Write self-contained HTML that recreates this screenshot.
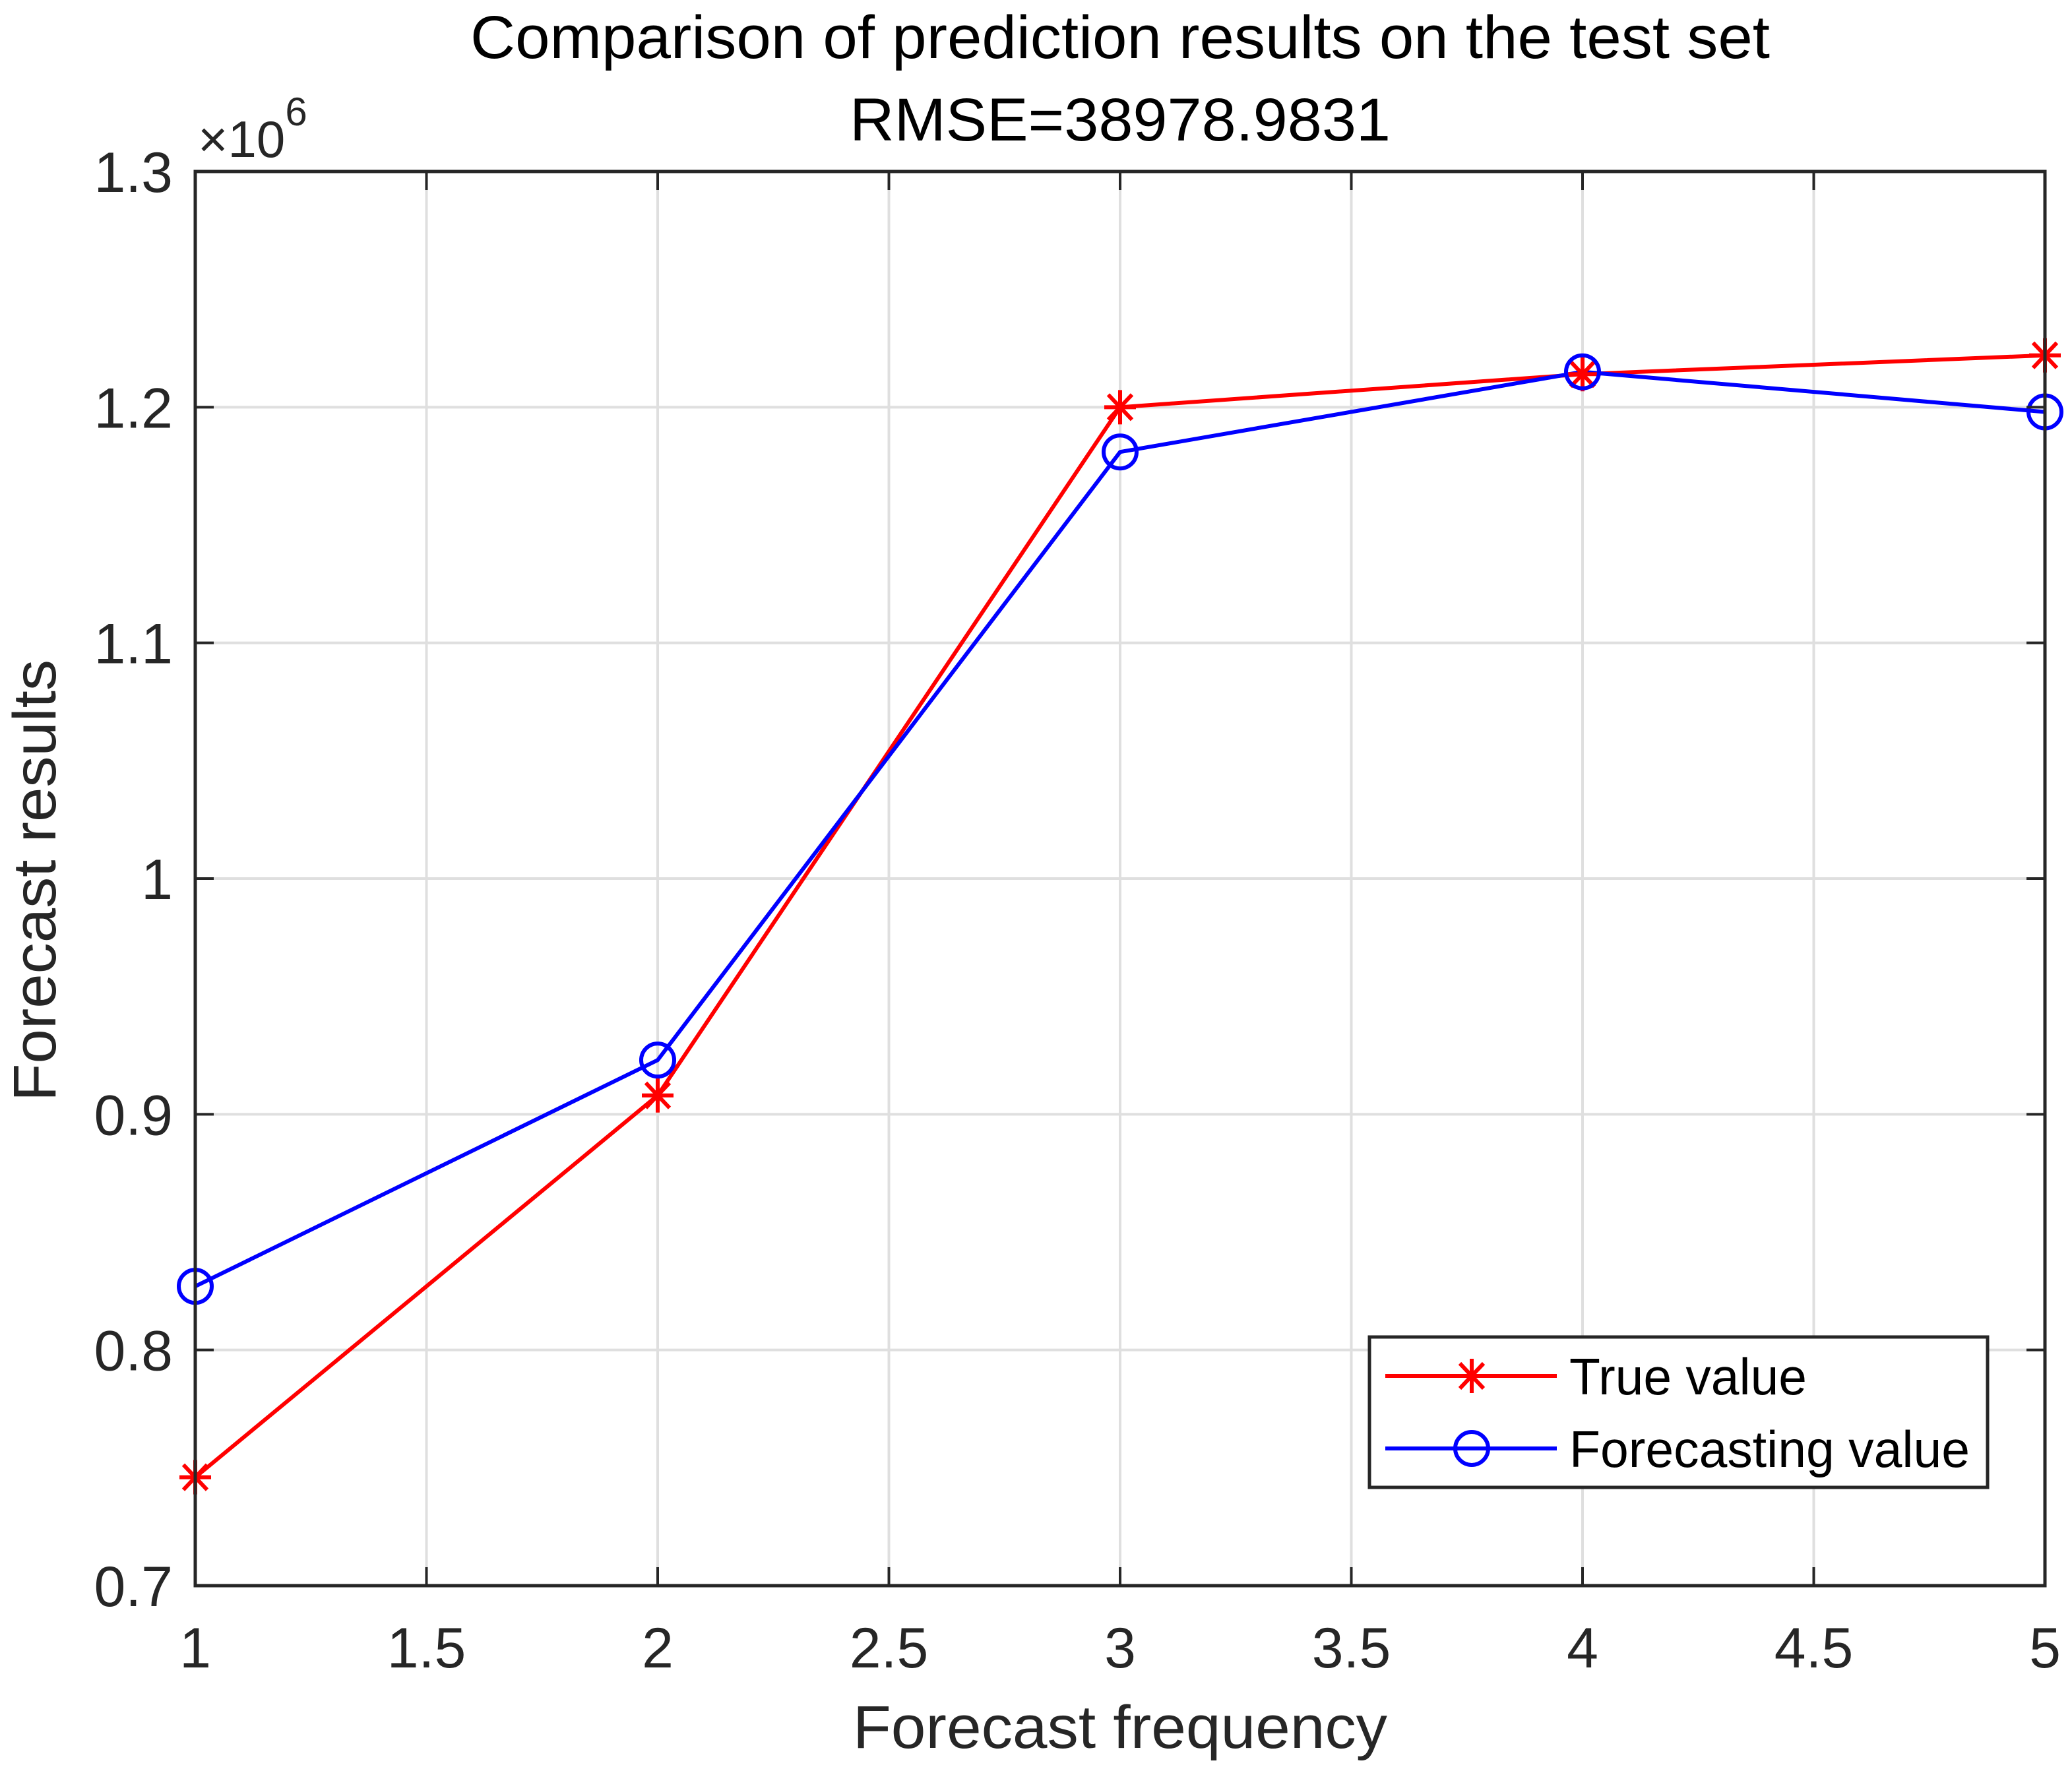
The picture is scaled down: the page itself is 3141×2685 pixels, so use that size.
<!DOCTYPE html>
<html><head><meta charset="utf-8"><style>html,body{margin:0;padding:0;background:#fff}svg{display:block}</style></head>
<body>
<svg id="chart" xmlns="http://www.w3.org/2000/svg" width="3141" height="2685" viewBox="0 0 3141 2685" font-family="Liberation Sans, Arial, sans-serif">
<rect width="3141" height="2685" fill="#fff"/>
<g id="grid"></g>
<g id="series"></g>
<rect x="296" y="260" width="2804" height="2144" fill="none" stroke="#262626" stroke-width="5"/>
<g id="ticks" fill="#262626" font-size="86"></g>
<text x="1698" y="88" text-anchor="middle" font-size="92" fill="#000" textLength="1970" lengthAdjust="spacingAndGlyphs">Comparison of prediction results on the test set</text>
<text x="1698" y="213" text-anchor="middle" font-size="92" fill="#000" textLength="820" lengthAdjust="spacingAndGlyphs">RMSE=38978.9831</text>
<text x="300" y="238" font-size="78" fill="#262626">×10<tspan font-size="60" dy="-48">6</tspan></text>
<text x="1698" y="2650" text-anchor="middle" font-size="92" fill="#262626" textLength="810" lengthAdjust="spacingAndGlyphs">Forecast frequency</text>
<text transform="translate(84,1335) rotate(-90)" text-anchor="middle" font-size="92" fill="#262626" textLength="670" lengthAdjust="spacingAndGlyphs">Forecast results</text>
<g>
<rect x="2076" y="2027" width="937" height="228" fill="#fff" stroke="#262626" stroke-width="5"/>
<g>
<line x1="2100" y1="2086" x2="2360" y2="2086" stroke="#f00" stroke-width="6"/>
<g stroke="#f00" stroke-width="6"><line x1="2207" y1="2086" x2="2255" y2="2086"/><line x1="2231" y1="2060" x2="2231" y2="2112"/><line x1="2213" y1="2067" x2="2249" y2="2105"/><line x1="2213" y1="2105" x2="2249" y2="2067"/></g>
<text x="2379" y="2114" font-size="78" fill="#000" textLength="360" lengthAdjust="spacingAndGlyphs">True value</text>
</g>
<g>
<line x1="2100" y1="2196" x2="2360" y2="2196" stroke="#00f" stroke-width="6"/>
<circle cx="2231" cy="2196" r="25" fill="none" stroke="#00f" stroke-width="6"/>
<text x="2379" y="2224" font-size="78" fill="#000" textLength="607" lengthAdjust="spacingAndGlyphs">Forecasting value</text>
</g>
</g>
</svg>
<script>
const xCats = [1, 2, 3, 4, 5];
const trueValues = [0.746, 0.908, 1.200, 1.214, 1.222];
const forecastValues = [0.827, 0.923, 1.181, 1.215, 1.198];
const xTicks = [1, 1.5, 2, 2.5, 3, 3.5, 4, 4.5, 5];
const xTickLabels = ["1","1.5","2","2.5","3","3.5","4","4.5","5"];
const yTicks = [0.7, 0.8, 0.9, 1.0, 1.1, 1.2, 1.3];
const yTickLabels = ["0.7","0.8","0.9","1","1.1","1.2","1.3"];

const L=296,R=3100,T=260,B=2404;
const xS=v=>L+(v-1)/(5-1)*(R-L);
const yS=v=>B-(v-0.7)/(1.3-0.7)*(B-T);
const NS="http://www.w3.org/2000/svg";
function mk(tag,attrs,parent){const e=document.createElementNS(NS,tag);for(const k in attrs)e.setAttribute(k,attrs[k]);parent.appendChild(e);return e;}
const grid=document.getElementById('grid'),ticks=document.getElementById('ticks'),series=document.getElementById('series');
xTicks.forEach((t,i)=>{
  const x=xS(t);
  const g=mk('line',{x1:x,y1:T,x2:x,y2:B,stroke:'#dfdfdf','stroke-width':4},grid);
  
  
  const tk=mk('line',{x1:x,y1:B,x2:x,y2:B-28,stroke:'#262626','stroke-width':4},ticks);
  
  
  const tk2=mk('line',{x1:x,y1:T,x2:x,y2:T+28,stroke:'#262626','stroke-width':4},ticks);
  
  
  const lb=mk('text',{x:x,y:2528,'text-anchor':'middle'},ticks);
  lb.textContent=xTickLabels[i];
  
  
});
yTicks.forEach((t,i)=>{
  const y=yS(t);
  const g=mk('line',{x1:L,y1:y,x2:R,y2:y,stroke:'#dfdfdf','stroke-width':4},grid);
  
  
  const tk=mk('line',{x1:L,y1:y,x2:L+28,y2:y,stroke:'#262626','stroke-width':4},ticks);
  
  
  const tk2=mk('line',{x1:R,y1:y,x2:R-28,y2:y,stroke:'#262626','stroke-width':4},ticks);
  
  
  const lb=mk('text',{x:262,y:y+31,'text-anchor':'end'},ticks);
  lb.textContent=yTickLabels[i];
  
  
});
function drawLine(vals,color,name){
  const pts=vals.map((v,i)=>xS(xCats[i])+','+yS(v)).join(' ');
  const p=mk('polyline',{points:pts,fill:'none',stroke:color,'stroke-width':6,'stroke-linejoin':'round'},series);
  
  
}
drawLine(trueValues,'#f00','true-value-line');
drawLine(forecastValues,'#00f','forecast-value-line');
trueValues.forEach((v,i)=>{
  const cx=xS(xCats[i]),cy=yS(v);
  const g=mk('g',{stroke:'#f00','stroke-width':6},series);
  
  
  mk('line',{x1:cx-24,y1:cy,x2:cx+24,y2:cy},g);
  mk('line',{x1:cx,y1:cy-26,x2:cx,y2:cy+26},g);
  mk('line',{x1:cx-18,y1:cy-19,x2:cx+18,y2:cy+19},g);
  mk('line',{x1:cx-18,y1:cy+19,x2:cx+18,y2:cy-19},g);
});
forecastValues.forEach((v,i)=>{
  const e=mk('circle',{cx:xS(xCats[i]),cy:yS(v),r:25,fill:'none',stroke:'#00f','stroke-width':6},series);
  
  
});
</script>
</body></html>
